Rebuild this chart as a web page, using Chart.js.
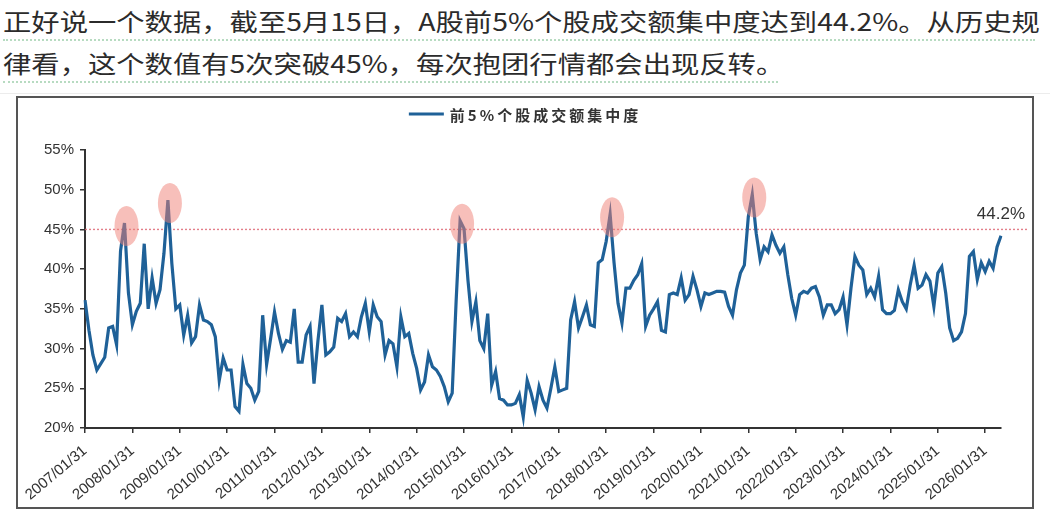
<!DOCTYPE html>
<html>
<head>
<meta charset="utf-8">
<script src="https://cdn.jsdelivr.net/npm/chart.js@4.4.1/dist/chart.umd.min.js"></script>
<style>
  html, body { margin: 0; padding: 0; background: #fff; }
  #wrap { position: relative; width: 1050px; height: 516px; overflow: hidden; }
  .txt {
    position: absolute; left: 3px; white-space: nowrap;
    font-family: "Noto Sans CJK SC", sans-serif; font-size: 24px; line-height: 24px;
    color: #2b2b2b; transform-origin: 0 0; transform: scaleX(1.18);
  }
  .dots { position: absolute; left: 3px; height: 0; border-top: 2px dotted #b7dbc1; }
  #sep { position: absolute; left: 0; top: 93px; width: 1050px; height: 0; border-top: 1px solid #ececec; }
  canvas { position: absolute; left: 0; top: 0; }
</style>
</head>
<body>
<div id="wrap">
  <div class="txt" style="top:9px">正好说一个数据，截至5月15日，A股前5%个股成交额集中度达到44.2%。从历史规</div>
  <div class="dots" style="top:39px;width:1032px"></div>
  <div class="txt" style="top:51px">律看，这个数值有5次突破45%，每次抱团行情都会出现反转。</div>
  <div class="dots" style="top:81px;width:775px"></div>
  <div id="sep"></div>
  <canvas id="c" width="1050" height="516"></canvas>
</div>
<script>
// 前5%个股成交额集中度, monthly, 2007/01 .. 2026/05 (%)
const concentration = [
  36.1, 32.3, 29.2, 27.3, 28.1, 28.9, 32.6, 32.8, 30.5, 42.3, 45.8, 37.0, // 2007
  33.0, 34.7, 35.7, 43.2, 35.0, 38.9, 35.7, 37.4, 42.0, 48.7, 40.7, 35.0, // 2008
  35.5, 31.7, 34.2, 30.7, 31.5, 35.5, 33.6, 33.4, 33.0, 31.5, 26.0, 28.8, // 2009
  27.3, 27.3, 22.7, 22.1, 28.0, 25.6, 25.0, 23.5, 24.6, 34.2, 28.0, 31.2, // 2010
  34.6, 31.9, 29.9, 31.0, 30.8, 35.0, 28.3, 28.3, 31.7, 32.8, 25.6, 31.0, // 2011
  35.5, 29.2, 29.6, 30.2, 33.8, 33.4, 34.4, 31.5, 32.1, 31.5, 34.0, 35.7, // 2012
  32.1, 35.5, 34.0, 33.4, 29.2, 31.0, 30.6, 27.7, 34.0, 31.5, 31.9, 29.4, // 2013
  27.5, 24.8, 25.8, 29.2, 27.7, 27.3, 26.5, 25.2, 23.3, 24.4, 36.0, 46.1, // 2014
  45.1, 38.6, 33.4, 35.9, 31.0, 30.0, 34.4, 25.4, 27.1, 23.7, 23.5, 22.9, // 2015
  22.9, 23.1, 24.2, 21.4, 26.0, 24.4, 22.3, 25.2, 23.5, 22.5, 25.0, 27.7, // 2016
  24.6, 24.8, 25.0, 33.6, 35.9, 32.6, 34.0, 35.5, 33.0, 32.8, 40.8, 41.2, // 2017
  43.5, 46.9, 40.8, 35.7, 33.2, 37.6, 37.6, 38.6, 39.3, 40.7, 32.8, 34.2, // 2018
  35.0, 35.9, 32.3, 32.1, 36.8, 37.0, 36.8, 38.9, 36.1, 36.8, 39.1, 37.4, // 2019
  35.3, 37.0, 36.8, 37.0, 37.2, 37.2, 37.1, 35.3, 34.2, 37.4, 39.5, 40.5, // 2020
  46.6, 49.4, 44.5, 41.2, 42.8, 42.2, 44.3, 43.0, 42.0, 42.8, 39.3, 36.3, // 2021
  34.2, 36.8, 37.2, 37.0, 37.6, 37.8, 36.5, 34.2, 35.5, 35.5, 34.4, 34.9, // 2022
  36.5, 33.0, 37.6, 41.6, 40.5, 39.9, 36.8, 37.6, 36.5, 39.1, 34.9, 34.4, // 2023
  34.4, 34.8, 37.4, 35.9, 35.0, 38.0, 40.5, 37.6, 38.0, 39.3, 38.5, 35.3, // 2024
  39.5, 40.3, 37.0, 32.6, 31.0, 31.3, 32.1, 34.4, 41.6, 42.2, 38.7, 40.8, // 2025
  39.7, 41.0, 40.1, 42.8, 44.2                                            // 2026
];

const tickLabels = [
  '2007/01/31', '2008/01/31', '2009/01/31', '2010/01/31', '2011/01/31',
  '2012/01/31', '2013/01/31', '2014/01/31', '2015/01/31', '2016/01/31',
  '2017/01/31', '2018/01/31', '2019/01/31', '2020/01/31', '2021/01/31',
  '2022/01/31', '2023/01/31', '2024/01/31', '2025/01/31', '2026/01/31'
];

const yTicks = [20, 25, 30, 35, 40, 45, 50, 55];
const peakIndex = [10, 21, 95, 133, 169];   // the 5 breaks above 45%
const threshold = 45;
const latestText = '44.2%';
const seriesName = '前5%个股成交额集中度';

// month-end labels, 2007/01/31 onwards
const categories = concentration.map((_, i) => {
  const y = 2007 + Math.floor(i / 12), m = i % 12 + 1;
  const d = new Date(y, m, 0).getDate();
  return y + '/' + String(m).padStart(2, '0') + '/' + d;
});

const lineColor = '#1f6198';

const decor = {
  id: 'decor',
  beforeDraw(chart) {
    const { ctx } = chart;
    ctx.save();
    ctx.strokeStyle = '#555';
    ctx.lineWidth = 2;
    ctx.strokeRect(17, 97, 1016, 411);
    ctx.restore();
  },
  beforeDatasetsDraw(chart) {
    const { ctx, chartArea, scales: { y } } = chart;
    const yy = y.getPixelForValue(threshold);
    ctx.save();
    ctx.strokeStyle = 'rgba(222,104,118,0.85)';
    ctx.lineWidth = 1.4;
    ctx.setLineDash([2, 2]);
    ctx.beginPath();
    ctx.moveTo(chartArea.left, yy);
    ctx.lineTo(chartArea.right + 27, yy);
    ctx.stroke();
    ctx.restore();
  },
  afterDatasetsDraw(chart) {
    const { ctx, chartArea, scales: { x, y } } = chart;
    ctx.save();
    // circles round the peaks
    ctx.fillStyle = 'rgba(240,128,118,0.5)';
    peakIndex.forEach(i => {
      const px = x.getPixelForValue(i), py = y.getPixelForValue(concentration[i]);
      ctx.beginPath();
      ctx.ellipse(px + 2, py + 3, 12, 20, 0, 0, Math.PI * 2);
      ctx.fill();
    });
    // latest value
    ctx.fillStyle = '#333';
    ctx.font = '17px Arial, "Liberation Sans"';
    ctx.textAlign = 'right';
    ctx.textBaseline = 'middle';
    ctx.fillText(latestText, chartArea.right + 24, y.getPixelForValue(threshold) - 15);
    // legend
    ctx.font = 'bold 15px "Noto Sans CJK SC"';
    ctx.letterSpacing = '3px';
    const tw = ctx.measureText(seriesName).width;
    const total = 35 + 6 + tw;
    const lx = chart.width / 2 - total / 2, ly = 114;
    ctx.strokeStyle = lineColor;
    ctx.lineWidth = 3;
    ctx.beginPath();
    ctx.moveTo(lx, ly);
    ctx.lineTo(lx + 35, ly);
    ctx.stroke();
    ctx.textAlign = 'left';
    ctx.fillStyle = '#333';
    ctx.fillText(seriesName, lx + 41, ly + 1);
    ctx.restore();
  }
};

new Chart(document.getElementById('c'), {
  type: 'line',
  data: {
    labels: categories,
    datasets: [{
      label: seriesName,
      data: concentration,
      borderColor: lineColor,
      borderWidth: 3.2,
      pointRadius: 0,
      tension: 0,
      fill: false
    }]
  },
  options: {
    responsive: false,
    animation: false,
    layout: { padding: { top: 150, right: 49, bottom: 0, left: 0 } },
    plugins: { legend: { display: false }, tooltip: { enabled: false } },
    scales: {
      x: {
        type: 'category',
        offset: false,
        afterFit: s => { s.height = 88; },
        border: { display: true, color: '#333', width: 2 },
        grid: {
          drawOnChartArea: false,
          drawTicks: true,
          tickLength: 5,
          lineWidth: 1.5,
          color: c => tickLabels.includes(categories[c.index]) ? '#333' : 'rgba(0,0,0,0)'
        },
        ticks: {
          autoSkip: false,
          maxRotation: 40,
          minRotation: 40,
          padding: 9,
          color: '#333',
          font: { family: 'Arial, "Liberation Sans"', size: 15 },
          callback: (v, i) => tickLabels.includes(categories[i]) ? categories[i] : ''
        }
      },
      y: {
        min: 20,
        max: 55,
        afterFit: s => { s.width = 85; },
        afterBuildTicks: s => { s.ticks = yTicks.map(v => ({ value: v })); },
        border: { display: true, color: '#333', width: 2 },
        grid: { drawOnChartArea: false, drawTicks: true, tickLength: 5, lineWidth: 1.5, color: '#333' },
        ticks: {
          padding: 6,
          color: '#333',
          font: { family: 'Arial, "Liberation Sans"', size: 15 },
          callback: v => v + '%'
        }
      }
    }
  },
  plugins: [decor]
});
</script>
</body>
</html>
